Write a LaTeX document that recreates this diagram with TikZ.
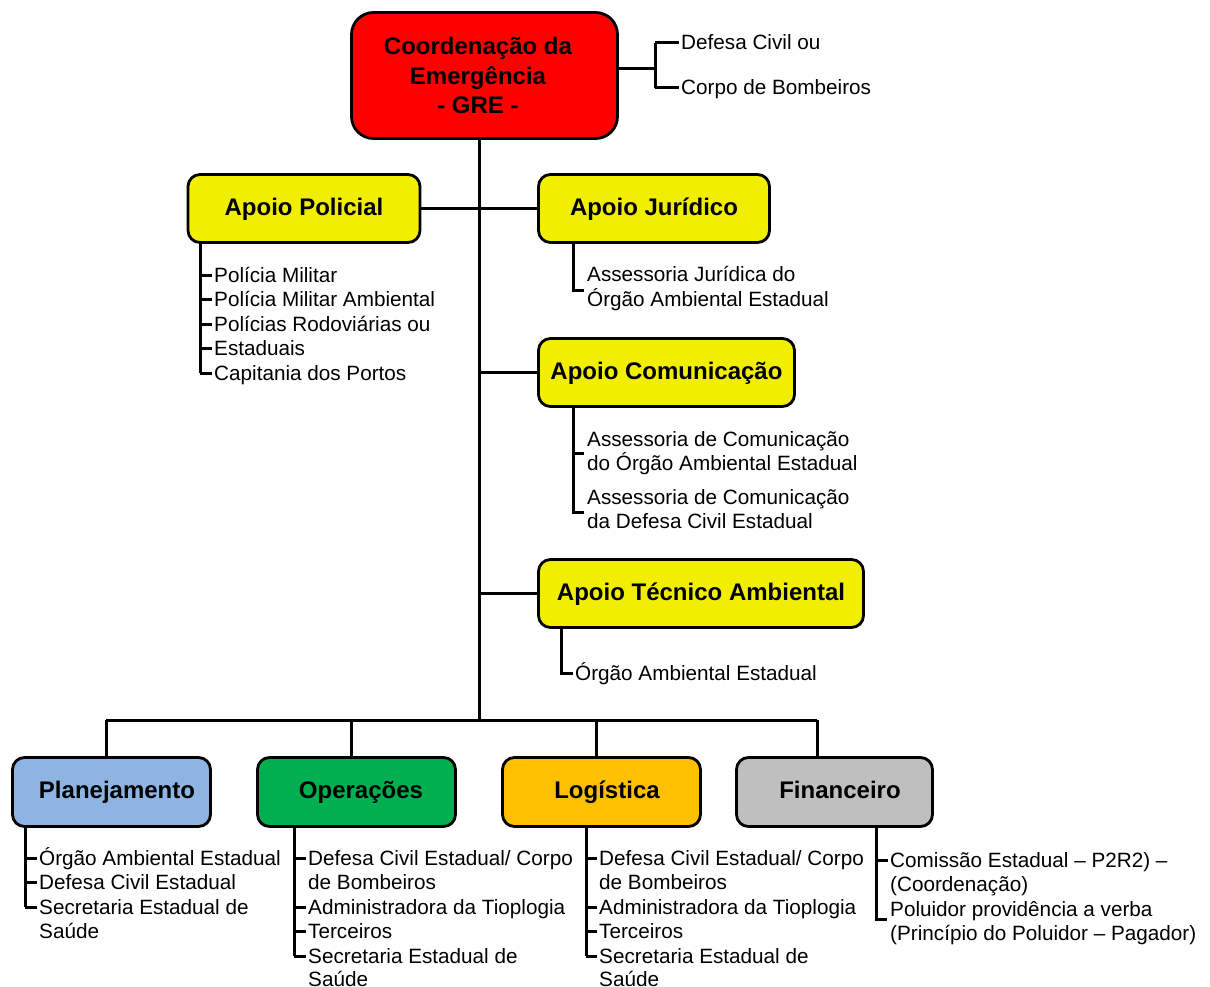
\documentclass[tikz,border=0pt]{standalone}
\usepackage{fontspec}
\setmainfont{Liberation Sans}
\definecolor{gred}{RGB}{255,0,0}
\definecolor{gyel}{RGB}{242,238,0}
\definecolor{gblue}{RGB}{141,180,226}
\definecolor{ggreen}{RGB}{0,176,80}
\definecolor{gorange}{RGB}{255,192,0}
\definecolor{ggray}{RGB}{191,191,191}
\tikzset{
  box/.style={draw=black, line width=2.8pt, rounded corners=12pt, inner sep=0pt,
    font=\fontsize{24}{29.5}\selectfont\bfseries, align=center},
  one/.style={text height=17.5pt, text depth=4.5pt},
  conn/.style={line width=3pt},
  item/.style={anchor=west, inner sep=0pt, text height=14pt, text depth=0pt,
    font=\fontsize{20.7}{24.5}\selectfont},
  stub/.style={conn, shorten >=2.5pt},
}
\begin{document}
\begin{tikzpicture}[x=1pt,y=-1pt]
\useasboundingbox (0,0) rectangle (1210,987);
% boxes
\node[box, fill=gred, minimum width=266pt, minimum height=126pt, rounded corners=22pt] (gre) at (484.5,75.5) {};
\node[box, draw=none, fill=none] (gret) at (478,75.5) {Coordenação da\\Emergência\\- GRE -};
\node[box, one, fill=gyel, minimum width=232pt, minimum height=68pt] (pol) at (304,208.5) {Apoio Policial};
\node[box, one, fill=gyel, minimum width=231pt, minimum height=68pt] (jur) at (654,208.5) {Apoio Jurídico};
\node[box, one, fill=gyel, minimum width=256pt, minimum height=68pt] (com) at (666.5,372.5) {Apoio Comunicação};
\node[box, one, fill=gyel, minimum width=325pt, minimum height=68pt] (tec) at (701,593.5) {Apoio Técnico Ambiental};
\node[box, one, fill=gblue, minimum width=198pt, minimum height=69pt] (pla) at (111.5,792) {\hspace*{11pt}Planejamento};
\node[box, one, fill=ggreen, minimum width=198pt, minimum height=69pt] (ope) at (356.5,792) {\hspace*{9pt}Operações};
\node[box, one, fill=gorange, minimum width=198pt, minimum height=69pt] (log) at (601.5,792) {\hspace*{11pt}Logística};
\node[box, one, fill=ggray, minimum width=196pt, minimum height=69pt] (fin) at (834.5,792) {\hspace*{11pt}Financeiro};

% GRE side
\node[item] (g1) at (681,43) {Defesa Civil ou};
\node[item] (g2) at (681,88) {Corpo de Bombeiros};
\coordinate (gb) at (655,69);
\draw[conn] (gre.east |- gb) -- (gb);
\draw[stub] (gb |- g1.west) -- (g1.west);
\draw[stub] (gb |- g2.west) -- (g2.west);
\draw[conn] (gb |- g1.west) -- (gb |- g2.west);

% trunk
\coordinate (bus) at (479,720);
\draw[conn] (gre.south -| bus) -- (bus);
\draw[conn] (pol.east) -- (jur.west);
\draw[conn] (com.west -| bus) -- (com.west);
\draw[conn] (tec.west -| bus) -- (tec.west);

% bottom bus
\coordinate (b1) at (106,720);
\coordinate (b2) at (351,720);
\coordinate (b3) at (596,720);
\coordinate (b4) at (817,720);
\draw[conn] (b1) -- (b4);
\draw[conn] (b1) -- (b1 |- pla.north);
\draw[conn] (b2) -- (b2 |- ope.north);
\draw[conn] (b3) -- (b3 |- log.north);
\draw[conn] (b4) -- (b4 |- fin.north);

% Apoio Policial list
\node[item] (p1) at (214,275) {Polícia Militar};
\node[item] (p2) at (214,299) {Polícia Militar Ambiental};
\node[item] (p3) at (214,324) {Polícias Rodoviárias ou};
\node[item] (p4) at (214,348) {Estaduais};
\node[item] (p5) at (214,373) {Capitania dos Portos};
\coordinate (pv) at (200,0);
\draw[conn] (pol.south -| pv) -- (pv |- p5.west);
\foreach \n in {p1,p2,p3,p4,p5} \draw[stub] (pv |- \n.west) -- (\n.west);

% Apoio Juridico list
\node[item] (j1) at (587,274) {Assessoria Jurídica do};
\node[item] (j2) at (587,299) {Órgão Ambiental Estadual};
\coordinate (jv) at (573,290);
\draw[conn] (jur.south -| jv) -- (jv) -- (584,290);

% Apoio Comunicacao list
\node[item] (c1) at (587,439) {Assessoria de Comunicação};
\node[item] (c2) at (587,463) {do Órgão Ambiental Estadual};
\node[item] (c3) at (587,497) {Assessoria de Comunicação};
\node[item] (c4) at (587,521) {da Defesa Civil Estadual};
\coordinate (cv1) at (573,453);
\coordinate (cv2) at (573,512);
\draw[conn] (com.south -| cv2) -- (cv2) -- (584,512);
\draw[conn] (cv1) -- (584,453);

% Apoio Tecnico list
\node[item] (t1) at (575,673) {Órgão Ambiental Estadual};
\coordinate (tv) at (561,0);
\draw[conn] (tec.south -| tv) -- (tv |- t1.west) -- ([xshift=-2.5pt]t1.west);

% Planejamento list
\node[item] (l1) at (39,858) {Órgão Ambiental Estadual};
\node[item] (l2) at (39,882) {Defesa Civil Estadual};
\node[item] (l3) at (39,907) {Secretaria Estadual de};
\node[item] (l4) at (39,931) {Saúde};
\coordinate (lv) at (25,0);
\draw[conn] (pla.south -| lv) -- (lv |- l3.west);
\foreach \n in {l1,l2,l3} \draw[stub] (lv |- \n.west) -- (\n.west);

% Operacoes list
\node[item] (o1) at (308,858) {Defesa Civil Estadual/ Corpo};
\node[item] (o2) at (308,882) {de Bombeiros};
\node[item] (o3) at (308,907) {Administradora da Tioplogia};
\node[item] (o4) at (308,931) {Terceiros};
\node[item] (o5) at (308,956) {Secretaria Estadual de};
\node[item] (o6) at (308,979) {Saúde};
\coordinate (ov) at (294,0);
\draw[conn] (ope.south -| ov) -- (ov |- o5.west);
\foreach \n in {o1,o3,o4,o5} \draw[stub] (ov |- \n.west) -- (\n.west);

% Logistica list
\node[item] (s1) at (599,858) {Defesa Civil Estadual/ Corpo};
\node[item] (s2) at (599,882) {de Bombeiros};
\node[item] (s3) at (599,907) {Administradora da Tioplogia};
\node[item] (s4) at (599,931) {Terceiros};
\node[item] (s5) at (599,956) {Secretaria Estadual de};
\node[item] (s6) at (599,979) {Saúde};
\coordinate (sv) at (586,0);
\draw[conn] (log.south -| sv) -- (sv |- s5.west);
\foreach \n in {s1,s3,s4,s5} \draw[stub] (sv |- \n.west) -- (\n.west);

% Financeiro list
\node[item] (f1) at (890,860) {Comissão Estadual – P2R2) –};
\node[item] (f2) at (890,884) {(Coordenação)};
\node[item] (f3) at (890,909) {Poluidor providência a verba};
\node[item] (f4) at (890,933) {(Princípio do Poluidor – Pagador)};
\coordinate (fv) at (876,919);
\draw[conn] (fin.south -| fv) -- (fv) -- (887,919);
\draw[stub] (fv |- f1.west) -- (f1.west);
\end{tikzpicture}
\end{document}
